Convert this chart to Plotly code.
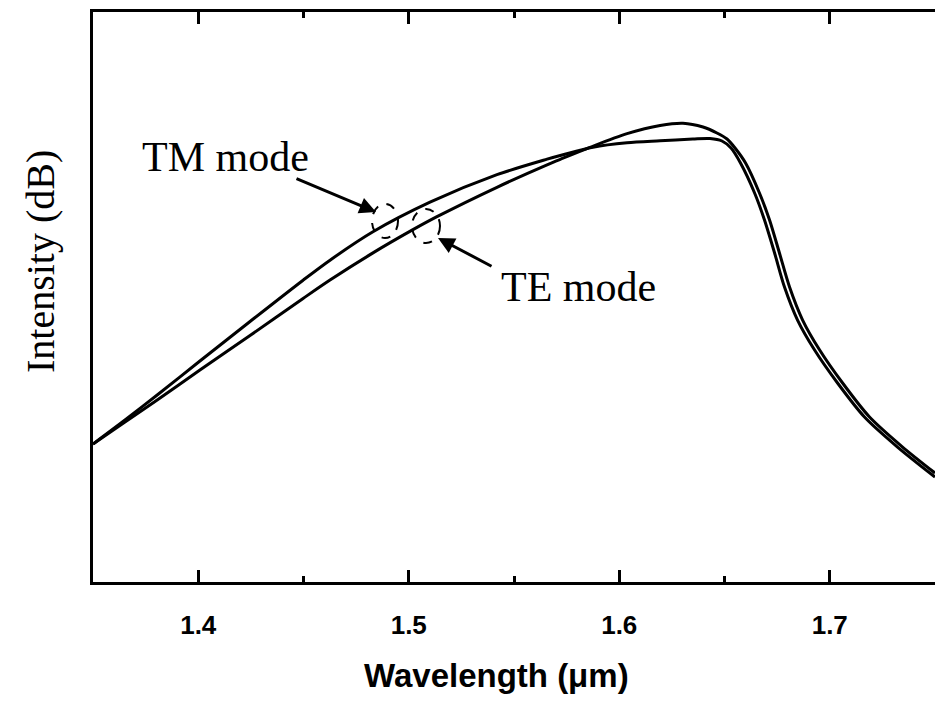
import plotly.graph_objects as go

# ---- data ----
tm_wavelength = [1.3500, 1.3652, 1.3805, 1.4008, 1.4246, 1.4498, 1.4626, 1.4830, 1.5101, 1.5419,
                 1.5657, 1.5733, 1.5875, 1.6037, 1.6194, 1.6350, 1.6431, 1.6488, 1.6531, 1.6576,
                 1.6643, 1.6690, 1.6738, 1.6785, 1.6847, 1.6928, 1.7037, 1.7165, 1.7322, 1.7500]
tm_intensity = [24.21, 28.42, 32.81, 38.77, 45.70, 52.95, 56.46, 61.44, 66.63, 71.46,
                74.18, 74.96, 76.28, 77.05, 77.40, 77.72, 77.81, 77.37, 76.14, 73.51,
                68.25, 63.51, 57.72, 51.75, 45.96, 40.70, 34.91, 28.95, 23.68, 18.42]

te_wavelength = [1.3500, 1.3652, 1.3805, 1.4008, 1.4246, 1.4498, 1.4626, 1.4830, 1.5020, 1.5134,
                 1.5419, 1.5657, 1.5733, 1.5861, 1.6037, 1.6194, 1.6303, 1.6398, 1.6464, 1.6512,
                 1.6550, 1.6600, 1.6666, 1.6714, 1.6761, 1.6809, 1.6871, 1.6952, 1.7061, 1.7189,
                 1.7346, 1.7500]
te_intensity = [24.21, 28.07, 31.93, 37.19, 43.25, 49.75, 52.98, 57.74, 61.81, 64.09,
                69.25, 73.19, 74.35, 76.25, 78.65, 80.09, 80.49, 79.82, 78.77, 77.72,
                76.14, 73.51, 68.25, 63.51, 57.72, 51.75, 45.96, 40.70, 34.91, 28.95,
                23.68, 19.12]

x_tickvals = [1.4, 1.5, 1.6, 1.7]
x_ticktext = ["1.4", "1.5", "1.6", "1.7"]

# ---- layout geometry (pixels) ----
W, H = 935, 705
L, R, T, B = 93, 935, 12, 582

def xp(px):
    return (px - L) / (R - L)

def yp(py):
    return (B - py) / (B - T)

fig = go.Figure()
fig.add_trace(go.Scatter(x=tm_wavelength, y=tm_intensity, mode="lines", name="TM mode",
                         line=dict(color="black", width=3, shape="spline", smoothing=0.8)))
fig.add_trace(go.Scatter(x=te_wavelength, y=te_intensity, mode="lines", name="TE mode",
                         line=dict(color="black", width=3, shape="spline", smoothing=0.8)))

serif = "Liberation Serif"
sans = "Liberation Sans"

annotations = [
    dict(text="Intensity (dB)", x=xp(40), y=yp(262), xref="paper", yref="paper",
         textangle=-90, showarrow=False, font=dict(family=serif, size=40, color="black"),
         xanchor="center", yanchor="middle"),
    dict(text="Wavelength (μm)", x=xp(496), y=yp(675), xref="paper", yref="paper",
         showarrow=False, font=dict(family=sans, size=33, color="black", weight="bold"),
         xanchor="center", yanchor="middle"),
    dict(text="TM mode", x=xp(140), y=yp(157), xref="paper", yref="paper",
         showarrow=False, font=dict(family=serif, size=42, color="black"),
         xanchor="left", yanchor="middle"),
    dict(text="TE mode", x=xp(499), y=yp(287), xref="paper", yref="paper",
         showarrow=False, font=dict(family=serif, size=42, color="black"),
         xanchor="left", yanchor="middle"),
    dict(text="", x=xp(376), y=yp(212), xref="paper", yref="paper",
         ax=295 - 376, ay=178 - 212, axref="pixel", ayref="pixel",
         showarrow=True, arrowhead=2, arrowsize=1.1, arrowwidth=3, arrowcolor="black"),
    dict(text="", x=xp(438), y=yp(238), xref="paper", yref="paper",
         ax=493 - 438, ay=267 - 238, axref="pixel", ayref="pixel",
         showarrow=True, arrowhead=2, arrowsize=1.1, arrowwidth=3, arrowcolor="black"),
]

shapes = [
    dict(type="circle", xref="paper", yref="paper",
         x0=xp(372), x1=xp(398), y0=yp(238), y1=yp(204),
         line=dict(color="black", width=2, dash="dash")),
    dict(type="circle", xref="paper", yref="paper",
         x0=xp(412), x1=xp(440), y0=yp(243), y1=yp(209),
         line=dict(color="black", width=2, dash="dash")),
]

fig.update_layout(
    width=W, height=H,
    margin=dict(l=L, r=W - R, t=T, b=H - B, pad=0),
    paper_bgcolor="white", plot_bgcolor="white",
    showlegend=False,
    annotations=annotations, shapes=shapes,
    xaxis=dict(range=[1.35, 1.75], tickvals=x_tickvals, ticktext=x_ticktext,
               ticks="inside", ticklen=12, tickwidth=3, tickcolor="black",
               minor=dict(dtick=0.05, tick0=1.35, ticks="inside", ticklen=6, tickwidth=3, tickcolor="black"),
               showline=True, linecolor="black", linewidth=3, mirror="ticks",
               showgrid=False, zeroline=False,
               tickfont=dict(family=sans, size=26, color="black", weight="bold"),
               ticklabelstandoff=18),
    yaxis=dict(range=[0, 100], showticklabels=False, ticks="",
               showline=True, linecolor="black", linewidth=3, mirror=False,
               showgrid=False, zeroline=False),
)

fig.write_html("out.html")
